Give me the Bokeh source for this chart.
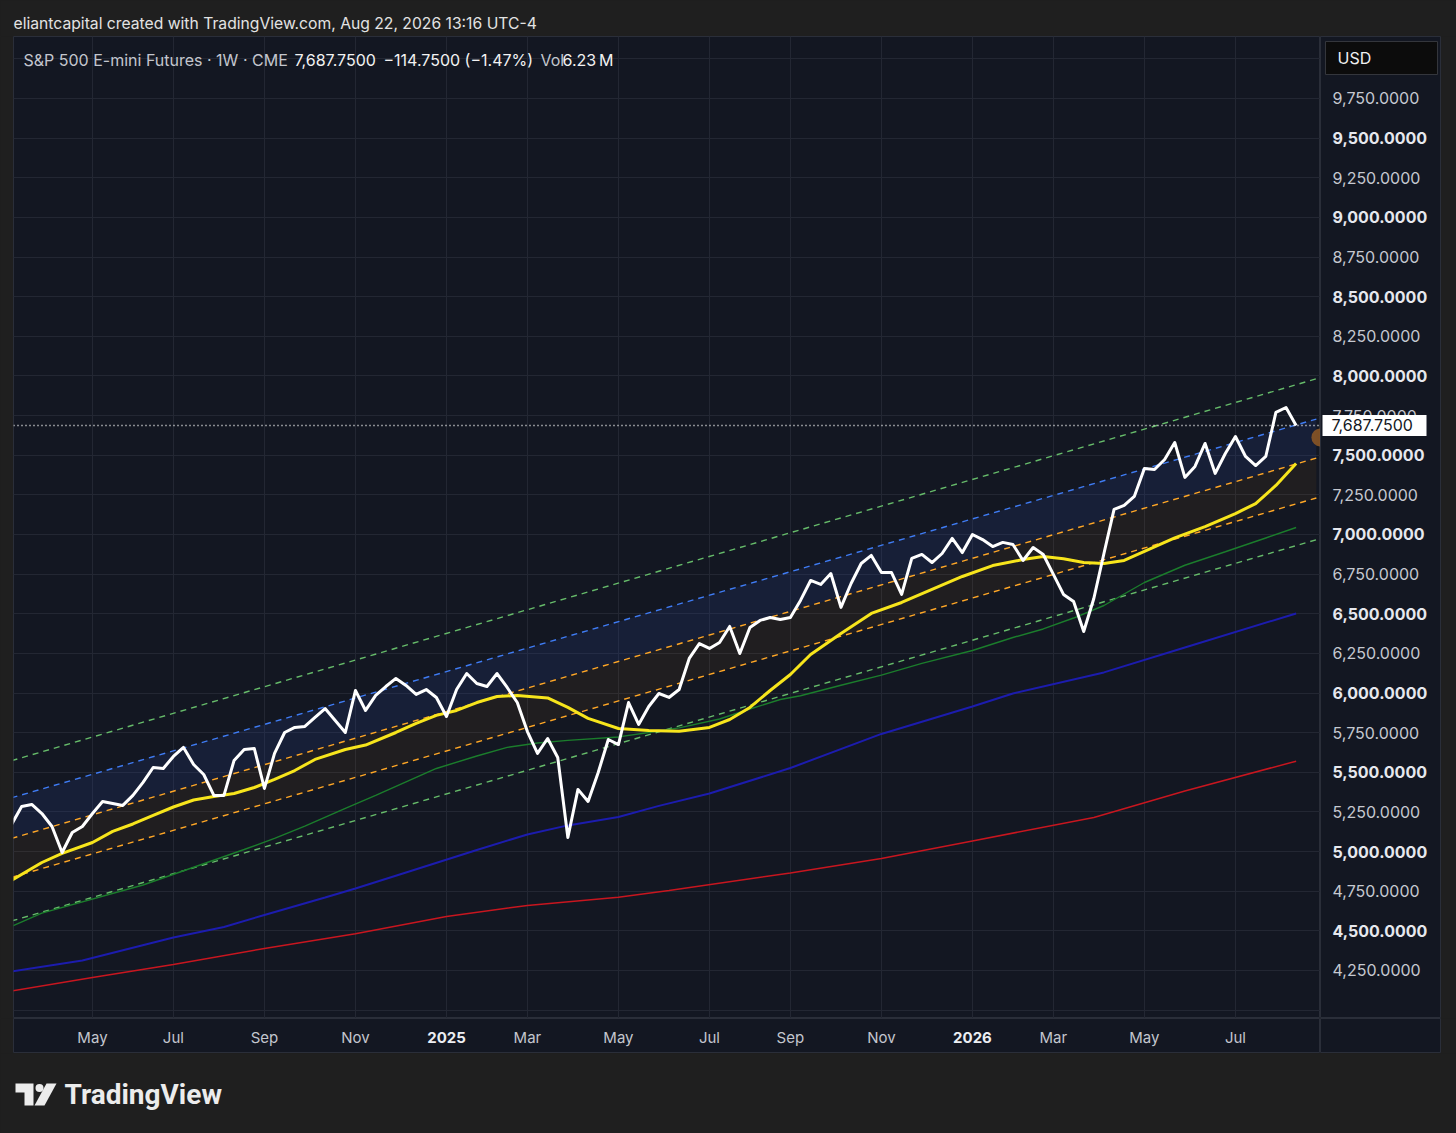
import pandas as pd
from bokeh.plotting import figure
from bokeh.layouts import column, row
from bokeh.models import Range1d, FixedTicker, Span, Grid, ColumnDataSource
from bokeh.core.properties import value
from bokeh.embed import file_html
from bokeh.resources import INLINE

# ---------------- data ----------------
first_week = "2024-03-11"          # weekly bars (Mondays)
close = [5171, 5284, 5297, 5240, 5158, 4994, 5120, 5158, 5240, 5316,
         5303, 5291, 5354, 5436, 5530, 5524, 5600, 5657, 5549, 5486,
         5354, 5354, 5575, 5644, 5650, 5398, 5619, 5751, 5783, 5789,
         5846, 5902, 5827, 5751, 6016, 5890, 5985, 6041, 6092, 6048,
         5991, 6022, 5972, 5852, 6022, 6123, 6060, 6041, 6123, 6035,
         5940, 5757, 5619, 5713, 5593, 5089, 5392, 5316, 5499, 5707,
         5675, 5940, 5802, 5915, 5997, 5972, 6022, 6218, 6312, 6281,
         6319, 6420, 6249, 6413, 6458, 6476, 6464, 6476, 6584, 6710,
         6685, 6754, 6540, 6691, 6817, 6868, 6760, 6760, 6622, 6849,
         6874, 6823, 6880, 6975, 6886, 7000, 6968, 6924, 6950, 6937,
         6836, 6918, 6874, 6748, 6622, 6577, 6388, 6596, 6880, 7158,
         7183, 7240, 7416, 7410, 7473, 7580, 7360, 7429, 7574, 7385,
         7511, 7618, 7492, 7435, 7492, 7770, 7801, 7687.75]

yellow_wk = [0, 3, 5, 8, 10, 12, 14, 16, 18, 20, 22, 24, 26, 28, 30, 33, 35, 38, 40,
             42, 44, 46, 48, 50, 53, 55, 57, 60, 63, 66, 69, 71, 73, 75, 77, 79, 82,
             85, 88, 91, 94, 97, 100, 102, 104, 106, 108, 110, 112, 115, 118, 121,
             123, 125, 127]
yellow_val = [4818, 4931, 4988, 5057, 5127, 5174, 5228, 5281, 5325, 5347, 5366, 5404,
              5455, 5511, 5581, 5644, 5672, 5751, 5808, 5859, 5890, 5940, 5978, 5985,
              5969, 5909, 5840, 5776, 5764, 5759, 5783, 5833, 5909, 6016, 6117, 6243,
              6376, 6502, 6571, 6653, 6735, 6804, 6842, 6861, 6847, 6823, 6817, 6836,
              6893, 6978, 7050, 7132, 7195, 7309, 7448]

green_wk = [0, 3, 13, 23, 26, 29, 33, 36, 39, 42, 46, 49, 52, 55, 60, 63, 66, 70, 73,
            76, 78, 82, 86, 90, 95, 99, 102, 105, 108, 112, 116, 120, 124, 127]
green_val = [4528, 4612, 4789, 5013, 5083, 5160, 5272, 5354, 5439, 5524, 5603, 5657,
             5685, 5701, 5723, 5751, 5780, 5836, 5899, 5959, 5983, 6049, 6113, 6187,
             6268, 6350, 6404, 6473, 6552, 6697, 6806, 6891, 6978, 7044]

navy_wk = [0, 7, 16, 21, 25, 31, 34, 39, 46, 51, 55, 60, 64, 69, 77, 86, 95, 99, 108,
           116, 127]
navy_val = [4244, 4313, 4458, 4524, 4600, 4710, 4767, 4868, 5010, 5108, 5165, 5218,
            5288, 5366, 5527, 5742, 5915, 5997, 6130, 6287, 6502]

red_wk = [0, 8, 16, 25, 34, 43, 51, 60, 65, 77, 86, 95, 107, 116, 127]
red_val = [4121, 4206, 4288, 4389, 4481, 4591, 4660, 4712, 4755, 4865, 4956, 5067,
           5215, 5382, 5570]

chan_wk = [0, 129]
chan_top = [5573, 7982]
chan_upper = [5339, 7728]
chan_mid = [5083, 7482]
chan_lower = [4837, 7230]
chan_bottom = [4562, 6967]

last_close = 7687.75
marker_wk = [129.4]
marker_val = [7612]

xtick_dates = ["2024-05-06", "2024-07-01", "2024-09-02", "2024-11-04", "2025-01-06",
               "2025-03-03", "2025-05-05", "2025-07-07", "2025-09-01", "2025-11-03",
               "2026-01-05", "2026-03-02", "2026-05-04", "2026-07-06"]
xtick_labels = ["May", "Jul", "Sep", "Nov", "2025", "Mar", "May", "Jul", "Sep", "Nov",
                "2026", "Mar", "May", "Jul"]
ytick_vals = list(range(4250, 9751, 250))
ytick_labels = [f"{v:,.4f}" for v in ytick_vals]
grid_y = list(range(4000, 10001, 250))

title_text = "eliantcapital created with TradingView.com, Aug 22, 2026 13:16 UTC-4"
legend_parts = ["S&P 500 E-mini Futures · 1W · CME", "7,687.7500",
                "\u2212114.7500 (\u22121.47%)", "Vol", "6.23\u2009M"]

# ---------------- helpers ----------------
DAY = 86400000.0
d0 = pd.Timestamp(first_week).value / 1e6


def wk(i):
    return d0 + i * 7 * DAY


def wks(lst):
    return [wk(i) for i in lst]


def dms(s):
    return pd.Timestamp(s).value / 1e6


OUTER = "#1f1f1f"
PANE = "#131722"
GRIDC = "#232733"
BORDER = "#2a2e39"
FONT = value("Inter")

LEFT = 13          # outer margin left of the pane
RIGHT = 16         # outer margin right of the pane
W, H = 1307, 982   # chart frame
X0, X1 = wk(0.193), wk(129.41)
Y0, Y1 = 3947.0, 10141.0
PPX = (Y1 - Y0) / H


def xd(px):
    return X0 + px * (X1 - X0) / W


def yd(px):
    return Y1 - px * PPX


def base_fig(width, height, xr, yr, bg=PANE, outline=BORDER, **kw):
    f = figure(width=width, height=height, x_range=xr, y_range=yr,
               x_axis_location=None, y_axis_location=None,
               toolbar_location=None, output_backend="svg",
               background_fill_color=bg, border_fill_color=OUTER,
               outline_line_color=outline, min_border=0, **kw)
    f.xgrid.visible = False
    f.ygrid.visible = False
    return f


TOTAL_W = LEFT + W + 120 + RIGHT   # 1456

# ---------------- title ----------------
pt_title = base_fig(TOTAL_W, 36, Range1d(0, TOTAL_W), Range1d(36, 0), bg=OUTER,
                    outline=None)
pt_title.text(x=[13], y=[23], text=[title_text], text_font=FONT, text_font_size="15.7px",
              text_color="#e3e3e3", text_baseline="middle", text_align="left")

# ---------------- main chart ----------------
p = base_fig(W + LEFT, H, Range1d(X0, X1), Range1d(Y0, Y1), min_border_left=LEFT)
xtick_ms = [dms(d) for d in xtick_dates]
p.add_layout(Grid(dimension=0, ticker=FixedTicker(ticks=xtick_ms),
                  grid_line_color=GRIDC, grid_line_width=1))
p.add_layout(Grid(dimension=1, ticker=FixedTicker(ticks=grid_y),
                  grid_line_color=GRIDC, grid_line_width=1))

cx = wks(chan_wk)
p.varea(x=cx, y1=chan_mid, y2=chan_upper, fill_color="#2a4a9a", fill_alpha=0.18)
p.varea(x=cx, y1=chan_lower, y2=chan_mid, fill_color="#ff9800", fill_alpha=0.06)

p.line(cx, chan_top, line_color="#66bb6a", line_width=1.4, line_dash="6 5")
p.line(cx, chan_bottom, line_color="#66bb6a", line_width=1.4, line_dash="6 5")
p.line(cx, chan_upper, line_color="#3f7cf4", line_width=1.4, line_dash="6 5")
p.line(cx, chan_mid, line_color="#ffa726", line_width=1.4, line_dash="6 5")
p.line(cx, chan_lower, line_color="#ffa726", line_width=1.4, line_dash="6 5")

p.line(wks(red_wk), red_val, line_color="#c8161f", line_width=1.5)
p.line(wks(navy_wk), navy_val, line_color="#1c1cae", line_width=2)
p.line(wks(green_wk), green_val, line_color="#1b7d2c", line_width=1.4)
p.line(wks(yellow_wk), yellow_val, line_color="#f7e51c", line_width=3, line_join="round")
p.line(wks(range(len(close))), close, line_color="#ffffff", line_width=3, line_join="round")

p.add_layout(Span(location=last_close, dimension="width", line_color="#ffffff",
                  line_width=1.5, line_dash="1 3"))
p.scatter(wks(marker_wk), marker_val, size=18, fill_color="#8a5526", fill_alpha=0.9,
          line_color=None)

leg_x = [10, 281, 370, 527, 549]
leg_col = ["#c3c6ce", "#f2f2f2", "#f2f2f2", "#c3c6ce", "#f2f2f2"]
p.text(x=[xd(v) for v in leg_x], y=[yd(23)] * 5, text=legend_parts, text_color=leg_col,
       text_font=FONT, text_font_size="16px", text_baseline="middle", text_align="left")

# ---------------- price axis ----------------
pp = base_fig(120 + RIGHT, H, Range1d(0, 120), p.y_range, min_border_right=RIGHT)
ysrc = ColumnDataSource(dict(
    x=[12] * len(ytick_vals), y=ytick_vals, text=ytick_labels,
    style=["bold" if v % 500 == 0 else "normal" for v in ytick_vals],
    color=["#e6e8ee" if v % 500 == 0 else "#c5c8d0" for v in ytick_vals]))
pp.text(x="x", y="y", text="text", source=ysrc, text_font=FONT, text_font_size="16px",
        text_font_style="style", text_color="color", text_baseline="middle",
        text_align="left")
pp.rect(x=[54], y=[last_close], width=104, height=21 * PPX, fill_color="#ffffff",
        line_color=None)
pp.text(x=[11], y=[last_close], text=[f"{last_close:,.4f}"], text_font=FONT,
        text_font_size="16px", text_color="#131722", text_baseline="middle",
        text_align="left")
pp.rect(x=[61], y=[yd(21.5)], width=112, height=33 * PPX, fill_color="#0c0c0c",
        line_color="#34363c", line_width=1)
pp.text(x=[17], y=[yd(21.5)], text=["USD"], text_font=FONT, text_font_size="16px",
        text_color="#f0f0f0", text_baseline="middle", text_align="left")

# ---------------- time axis ----------------
ptime = base_fig(W + LEFT, 35, p.x_range, Range1d(35, 0), min_border_left=LEFT)
tsrc = ColumnDataSource(dict(
    x=xtick_ms, y=[19] * len(xtick_ms), text=xtick_labels,
    style=["bold" if t.isdigit() else "normal" for t in xtick_labels],
    color=["#eceef2" if t.isdigit() else "#c3c6ce" for t in xtick_labels]))
ptime.text(x="x", y="y", text="text", source=tsrc, text_font=FONT, text_font_size="15px",
           text_font_style="style", text_color="color", text_baseline="middle",
           text_align="center")

corner = base_fig(120 + RIGHT, 35, Range1d(0, 1), Range1d(0, 1), min_border_right=RIGHT)

# ---------------- footer / logo ----------------
FH = 1133 - 36 - H - 35
foot = base_fig(TOTAL_W, FH, Range1d(0, TOTAL_W), Range1d(FH, 0), bg=OUTER, outline=None)
foot.patch([15, 33, 33, 24, 24, 15], [30, 30, 52, 52, 39, 39], fill_color="#ececec",
           line_color=None)
foot.scatter([39], [34.5], size=8, fill_color="#ececec", line_color=None)
foot.patch([46, 56, 44, 34], [30, 30, 52, 52], fill_color="#ececec", line_color=None)
foot.text(x=[64], y=[41], text=["TradingView"], text_font=value("Roboto"),
          text_font_size="28px", text_font_style="bold", text_color="#ececec",
          text_baseline="middle", text_align="left")

layout = column(pt_title, row(column(p, ptime), column(pp, corner)), foot)

html = file_html(layout, INLINE)
html = html.replace("<body>", '<body style="background-color:#1f1f1f;">', 1)
html = html.replace("<html", '<html style="background-color:#1f1f1f;"', 1)
open("out.html", "w").write(html)
